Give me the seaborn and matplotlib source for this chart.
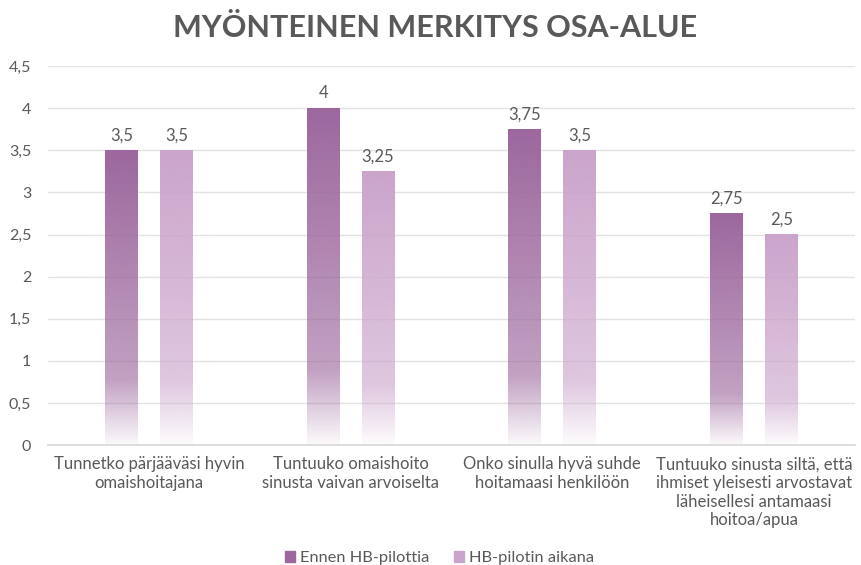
import numpy as np
import pandas as pd
import matplotlib
matplotlib.use("Agg")
import matplotlib.pyplot as plt
import seaborn as sns
from matplotlib.colors import to_rgb

categories = [
    "Tunnetko pärjääväsi hyvin\nomaishoitajana",
    "Tuntuuko omaishoito\nsinusta vaivan arvoiselta",
    "Onko sinulla hyvä suhde\nhoitamaasi henkilöön",
    "Tuntuuko sinusta siltä, että\nihmiset yleisesti arvostavat\nläheisellesi antamaasi\nhoitoa/apua",
]
series_names = ["Ennen HB-pilottia", "HB-pilotin aikana"]
before = [3.5, 4.0, 3.75, 2.75]
during = [3.5, 3.25, 3.5, 2.5]
colors = ["#9c679d", "#cba4cb"]

df = pd.DataFrame({
    "kysymys": categories * 2,
    "arvo": before + during,
    "sarja": [series_names[0]] * 4 + [series_names[1]] * 4,
})

sns.set_theme(style="white")
plt.rcParams["font.family"] = ["Lato", "DejaVu Sans"]
text_col = "#595959"

fig = plt.figure(figsize=(8.62, 5.65), dpi=100)
ax = fig.add_axes([0.0557, 0.212, 0.936, 0.671])

sns.barplot(data=df, x="kysymys", y="arvo", hue="sarja", palette=colors,
            width=0.545, gap=0.4, ax=ax, legend=False, errorbar=None)

# gradient fill: solid at the top, fading to white near the bottom
def gradient(color):
    rgb = np.array(to_rgb(color))
    t = np.linspace(0, 1, 200)  # 0 = bottom, 1 = top
    alpha = np.interp(t, [0, 0.22, 1], [0.04, 0.62, 1.0])
    img = np.ones((200, 1, 4))
    img[:, 0, :3] = rgb
    img[:, 0, 3] = alpha
    return img

for i, p in enumerate(ax.patches):
    x, w, h = p.get_x(), p.get_width(), p.get_height()
    col = colors[i // 4]
    p.set_facecolor("none")
    p.set_edgecolor("none")
    ax.imshow(gradient(col), extent=[x, x + w, 0, h], origin="lower",
              aspect="auto", zorder=2, interpolation="bilinear")
    lbl = f"{h:g}".replace(".", ",")
    ax.text(x + w / 2, h + 0.08, lbl, ha="center", va="bottom",
            fontsize=12, color=text_col)

ax.set_xlim(-0.5, 3.5)
ax.set_ylim(0, 4.5)
ax.set_yticks(np.arange(0, 4.51, 0.5))
ax.set_yticklabels([f"{v:g}".replace(".", ",") for v in np.arange(0, 4.51, 0.5)],
                   color=text_col, fontsize=11.5)
ax.set_xticks(range(4))
ax.set_xticklabels(categories, color=text_col, fontsize=12, linespacing=1.2)
ax.tick_params(axis="both", length=0, pad=8)
ax.tick_params(axis="y", pad=12)
ax.yaxis.grid(True, color="#e3e3e3", linewidth=1)
ax.set_axisbelow(True)
for s in ["top", "right", "left"]:
    ax.spines[s].set_visible(False)
ax.spines["bottom"].set_color("#d9d9d9")
ax.set_xlabel("")
ax.set_ylabel("")

fig.suptitle("MYÖNTEINEN MERKITYS OSA-ALUE", x=0.505, y=0.95, va="center",
             fontsize=22, fontweight="bold", color=text_col)

handles = [plt.Rectangle((0, 0), 1, 1, color=c) for c in colors]
fig.legend(handles, series_names, loc="center", bbox_to_anchor=(0.51, 0.012),
           ncol=2, frameon=False, handlelength=0.6, handleheight=0.6,
           handletextpad=0.3, columnspacing=1.5, fontsize=11.8,
           labelcolor=text_col)

fig.savefig("out.png", dpi=100)
